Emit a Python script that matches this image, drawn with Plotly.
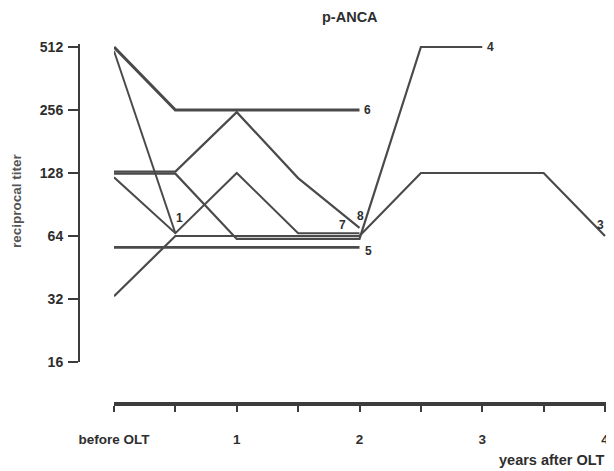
import math
import plotly.graph_objects as go

# ---- data ----
years_tick_vals = [0, 0.5, 1, 1.5, 2, 2.5, 3, 3.5, 4]
years_tick_text = ["before OLT", "", "1", "", "2", "", "3", "", "4"]
titer_ticks = [16, 32, 64, 128, 256, 512]

line1_t = [0, 0.5]
line1_v = [490, 66]
line3_t = [0, 0.5, 2, 2.5, 3.5, 4]
line3_v = [33, 64, 64, 128, 128, 64]
line4_t = [0, 0.5, 1, 2, 2.5, 3]
line4_v = [127, 127, 62, 62, 512, 512]
line5_t = [0, 2]
line5_v = [56.5, 56.5]
line6_t = [0, 0.5, 2]
line6_v = [512, 256, 256]
line7_t = [0, 0.5, 1, 1.5, 2]
line7_v = [122, 66, 128, 66, 66]
line8_t = [0, 0.5, 1, 1.5, 2]
line8_v = [130, 130, 250, 121, 70]

series = [
    ("1", line1_t, line1_v, 2),
    ("3", line3_t, line3_v, 2.2),
    ("4", line4_t, line4_v, 2.2),
    ("5", line5_t, line5_v, 2.6),
    ("6", line6_t, line6_v, 3),
    ("7", line7_t, line7_v, 2),
    ("8", line8_t, line8_v, 2.2),
]

W, H = 614, 471
OFF = 8  # page body margin offset of the rendered figure
LINE_COLOR = "#4a4a4a"
TEXT_COLOR = "#2e2e2e"
FONT = "Liberation Sans, Arial, sans-serif"


def fx(px):
    return (px - OFF) / W


def fy(py):
    return (H - (py - OFF)) / H


fig = go.Figure()
for name, t, v, w in series:
    fig.add_trace(go.Scatter(x=t, y=v, mode="lines", name=name,
                             line=dict(color=LINE_COLOR, width=w),
                             showlegend=False, hoverinfo="skip"))

# end labels: (text, t, value, xshift, yshift, xanchor)
labels = [
    ("1", 0.5, 66, 4, 15, "center"),
    ("7", 2, 66, -17, 8, "center"),
    ("8", 2, 70, 1, 12, "center"),
    ("5", 2, 56.5, 3, -4, "left"),
    ("6", 2, 256, 2, 0, "left"),
    ("4", 3, 512, 3, 0, "left"),
]
for txt, t, v, xs, ys, xa in labels:
    fig.add_annotation(x=t, y=math.log10(v), xref="x", yref="y", text=txt,
                       showarrow=False, xshift=xs, yshift=ys, xanchor=xa,
                       yanchor="middle",
                       font=dict(family=FONT, size=12, color=TEXT_COLOR, weight="bold"))

# pixel layout helpers (reference screen pixels)
x0_px, x1_px, t_end_px = 114, 611, 605
xr = 4 * (x1_px - x0_px) / (t_end_px - x0_px)
ylog_lo, ylog_hi = math.log10(16), math.log10(512)
px_per_dec = (362 - 47) / (ylog_hi - ylog_lo)
y_top_px = 44
y_top_log = ylog_hi + (47 - y_top_px) / px_per_dec

# label of series 3 sits at the right edge of the page (kept inside the view)
fig.add_annotation(x=fx(606), y=fy(225), xref="paper", yref="paper", text="3",
                   showarrow=False, xanchor="right", yanchor="middle",
                   font=dict(family=FONT, size=12, color=TEXT_COLOR, weight="bold"))

fig.update_layout(
    width=W, height=H,
    margin=dict(l=0, r=0, t=0, b=0, autoexpand=False),
    paper_bgcolor="white", plot_bgcolor="white",
    font=dict(family=FONT, color=TEXT_COLOR),
    xaxis=dict(
        domain=[fx(x0_px), fx(x1_px)], range=[0, xr],
        anchor="free", position=fy(404), automargin=False,
        showline=True, linewidth=4, linecolor="#3c3c3c",
        ticks="outside", ticklen=6, tickwidth=1.5, tickcolor="#3c3c3c",
        tickvals=years_tick_vals, ticktext=years_tick_text,
        ticklabelstandoff=16,
        tickfont=dict(family=FONT, size=13.5, color=TEXT_COLOR, weight="bold"),
        showgrid=False, zeroline=False,
    ),
    yaxis=dict(
        type="log", domain=[fy(362), fy(y_top_px)],
        range=[ylog_lo, y_top_log],
        anchor="free", position=fx(79), automargin=False,
        showline=True, linewidth=2, linecolor="#3c3c3c",
        ticks="outside", ticklen=10, tickwidth=2, tickcolor="#3c3c3c",
        tickvals=titer_ticks, ticktext=[str(v) for v in titer_ticks],
        ticklabelstandoff=2,
        tickfont=dict(family=FONT, size=14, color=TEXT_COLOR, weight="bold"),
        showgrid=False, zeroline=False,
    ),
)

fig.add_annotation(x=fx(350), y=fy(17), xref="paper", yref="paper",
                   xanchor="center", yanchor="middle",
                   text="p-ANCA", showarrow=False,
                   font=dict(family=FONT, size=14.5, color=TEXT_COLOR, weight="bold"))
fig.add_annotation(x=fx(16), y=fy(201), xref="paper", yref="paper",
                   xanchor="center", yanchor="middle",
                   text="reciprocal titer", textangle=-90, showarrow=False,
                   font=dict(family=FONT, size=13.5, color="#555555", weight="bold"))
fig.add_annotation(x=fx(606), y=fy(460), xref="paper", yref="paper",
                   xanchor="right", yanchor="middle",
                   text="years after OLT", showarrow=False,
                   font=dict(family=FONT, size=14.5, color=TEXT_COLOR, weight="bold"))

fig.write_html("out.html")
